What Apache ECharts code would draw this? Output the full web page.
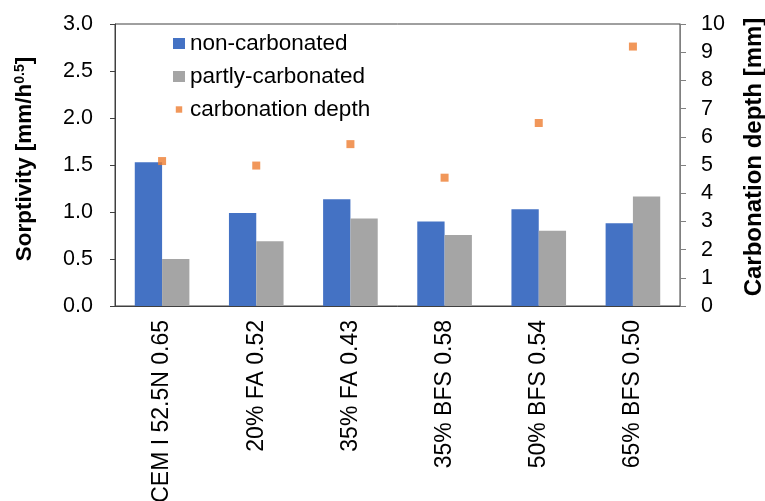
<!DOCTYPE html>
<html>
<head>
<meta charset="utf-8">
<script src="https://cdn.jsdelivr.net/npm/echarts@6/dist/echarts.min.js"></script>
<style>html,body{margin:0;padding:0;background:#fff}#c{width:765px;height:501px}</style>
</head>
<body>
<div id="c"></div>
<script>
const categories = ['CEM I 52.5N 0.65', '20% FA 0.52', '35% FA 0.43', '35% BFS 0.58', '50% BFS 0.54', '65% BFS 0.50'];
const nonCarbonated = [1.53, 0.99, 1.135, 0.90, 1.03, 0.88];
const partlyCarbonated = [0.50, 0.69, 0.93, 0.755, 0.80, 1.165];
const carbonationDepth = [5.14, 4.98, 5.74, 4.55, 6.49, 9.2];
const leftTicks = {min: 0, max: 3, interval: 0.5};
const rightTicks = {min: 0, max: 10, interval: 1};

const font = 'Liberation Sans, Arial, sans-serif';
const chart = echarts.init(document.getElementById('c'));
chart.setOption({
  animation: false,
  textStyle: {fontFamily: font},
  grid: {left: 115, right: 85, top: 24, bottom: 195, show: true, borderColor: '#404040', borderWidth: 1,
         containLabel: false, outerBoundsMode: 'none'},
  legend: {
    orient: 'vertical', left: 168, top: 27, itemGap: 10, itemWidth: 12, itemHeight: 11,
    textStyle: {fontSize: 22.5, color: '#000', fontFamily: font},
    data: [
      {name: 'non-carbonated', icon: 'rect'},
      {name: 'partly-carbonated', icon: 'rect'},
      {name: 'carbonation depth', icon: 'path://M0,0 M12,12 M2.5,2.5 L9.5,2.5 L9.5,9.5 L2.5,9.5 Z'}
    ]
  },
  xAxis: {
    type: 'category', data: categories,
    axisLine: {lineStyle: {color: '#404040'}},
    axisTick: {inside: true, length: 6, lineStyle: {color: '#404040'}},
    axisLabel: {rotate: 90, fontSize: 23, color: '#000', margin: 14, fontFamily: font}
  },
  yAxis: [{
    type: 'value', min: leftTicks.min, max: leftTicks.max, interval: leftTicks.interval,
    name: '{a|Sorptivity [mm/h}{s|0.5}{a|]}', nameLocation: 'middle', nameGap: 79, nameRotate: 90,
    nameTextStyle: {padding: [0, 0, 0, 12], rich: {a: {fontSize: 22.5, fontWeight: 'bold', color: '#000', fontFamily: font}, s: {fontSize: 14, fontWeight: 'bold', color: '#000', verticalAlign: 'top', padding: [0,0,9,0], fontFamily: font}}},
    axisLine: {show: true, lineStyle: {color: '#404040'}},
    axisTick: {show: true, length: 5, lineStyle: {color: '#404040'}},
    splitLine: {show: false},
    axisLabel: {fontSize: 21.5, color: '#000', margin: 22, fontFamily: font, formatter: v => v.toFixed(1)}
  }, {
    type: 'value', min: rightTicks.min, max: rightTicks.max, interval: rightTicks.interval, position: 'right',
    name: 'Carbonation depth [mm]', nameLocation: 'middle', nameGap: 62, nameRotate: 90,
    nameTextStyle: {fontSize: 24, fontWeight: 'bold', color: '#000', fontFamily: font, padding: [0, 0, 0, 16]},
    axisLine: {show: true, lineStyle: {color: '#808080'}},
    axisTick: {show: true, length: 6, lineStyle: {color: '#808080'}},
    splitLine: {show: false},
    axisLabel: {fontSize: 21.5, color: '#000', margin: 21, fontFamily: font}
  }],
  series: [{
    name: 'non-carbonated', type: 'bar', data: nonCarbonated, barGap: '0%', barCategoryGap: '42%',
    itemStyle: {color: '#4472C4'}
  }, {
    name: 'partly-carbonated', type: 'bar', data: partlyCarbonated,
    itemStyle: {color: '#A5A5A5'}
  }, {
    name: 'carbonation depth', type: 'scatter', yAxisIndex: 1, data: carbonationDepth,
    symbol: 'rect', symbolSize: 8, itemStyle: {color: '#ED7D31'}
  }]
});
</script>
</body>
</html>
